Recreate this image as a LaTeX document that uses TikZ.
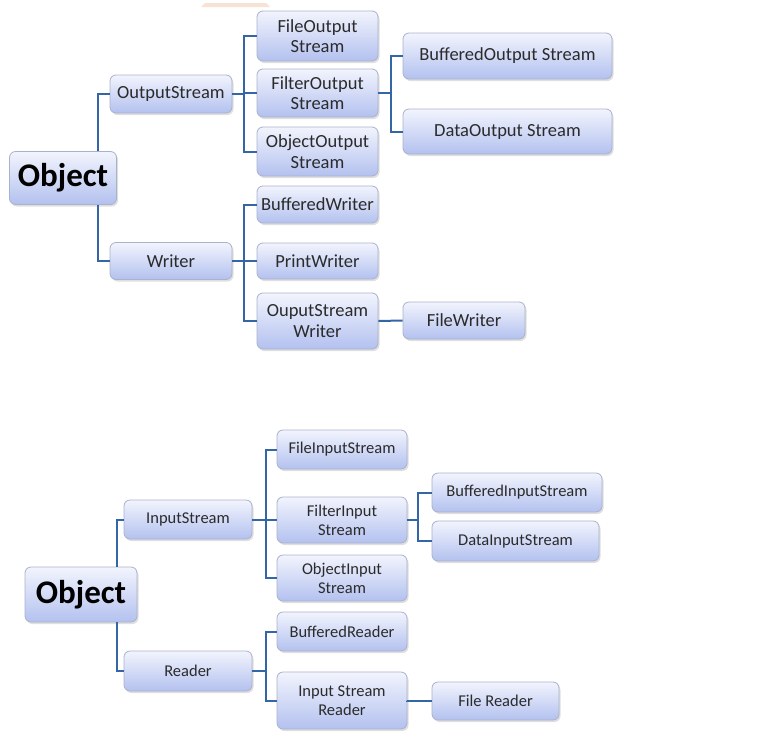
\documentclass[tikz,border=0pt]{standalone}
\usepackage{fontspec}
\setmainfont{Carlito}
\usetikzlibrary{shadows}
\definecolor{boxtop}{HTML}{F2F4FD}
\definecolor{boxbot}{HTML}{B3C1EF}
\definecolor{boxline}{HTML}{A9B2CC}
\definecolor{linkblue}{HTML}{3466A6}
\definecolor{txt}{HTML}{2B2B2B}
\definecolor{peach}{HTML}{F7E2D6}
\begin{document}
\begin{tikzpicture}[x=1pt,y=-1pt,
    cls/.style={draw=boxline, line width=0.8pt, rounded corners=6pt,
      top color=boxtop, bottom color=boxbot, text=txt, align=center,
      inner sep=0pt,
      drop shadow={opacity=0.25, shadow xshift=1.5pt, shadow yshift=-2pt}},
    up/.style={cls, font=\fontsize{18.5}{20.5}\selectfont},
    low/.style={cls, font=\fontsize{16.5}{19}\selectfont},
    root/.style={cls, text=black, font=\bfseries\fontsize{33}{36}\selectfont},
    link/.style={draw=linkblue, line width=2pt}
  ]
  \useasboundingbox (0,0) rectangle (763,737);
  \fill[peach] (205,3) -- (266,3) -- (270,7) -- (201,7) -- cycle;

  % output side
  \node[root, minimum width=107, minimum height=53] (obj1) at (63,178) {Object};
  \node[up, minimum width=122, minimum height=38] (os) at (171,94) {OutputStream};
  \node[up, minimum width=122, minimum height=37] (wr) at (171,261) {Writer};
  \node[up, minimum width=121, minimum height=50] (fos) at (317.5,36) {FileOutput\\Stream};
  \node[up, minimum width=121, minimum height=48] (flos) at (317.5,93) {FilterOutput\\Stream};
  \node[up, minimum width=121, minimum height=49] (oos) at (317.5,151.5) {ObjectOutput\\Stream};
  \node[up, minimum width=121, minimum height=37] (bw) at (317.5,204.5) {BufferedWriter};
  \node[up, minimum width=121, minimum height=36] (pw) at (317.5,261) {PrintWriter};
  \node[up, minimum width=121, minimum height=56] (osw) at (317.5,321) {OuputStream\\Writer};
  \node[up, minimum width=209, minimum height=46] (bos) at (507.5,56) {BufferedOutput Stream};
  \node[up, minimum width=209, minimum height=45] (dos) at (507.5,131.5) {DataOutput Stream};
  \node[up, minimum width=122, minimum height=37] (fw) at (464,320.5) {FileWriter};

  % input side
  \node[root, minimum width=112, minimum height=55] (obj2) at (81,594.5) {Object};
  \node[low, minimum width=128, minimum height=39] (is) at (188,519.5) {InputStream};
  \node[low, minimum width=128, minimum height=40] (rd) at (188,671) {Reader};
  \node[low, minimum width=130, minimum height=39] (fis) at (342,449.5) {FileInputStream};
  \node[low, minimum width=130, minimum height=46] (fltis) at (342,520) {FilterInput\\Stream};
  \node[low, minimum width=130, minimum height=46] (ois) at (342,578) {ObjectInput\\Stream};
  \node[low, minimum width=130, minimum height=39] (br) at (342,631.5) {BufferedReader};
  \node[low, minimum width=130, minimum height=57] (isr) at (342,700.5) {Input Stream\\Reader};
  \node[low, minimum width=170, minimum height=39] (bis) at (517,492.5) {BufferedInputStream};
  \node[low, minimum width=167, minimum height=40] (dis) at (515.5,541) {DataInputStream};
  \node[low, minimum width=127, minimum height=38] (frd) at (495.5,701) {File Reader};

  \coordinate (s1) at (98,0);
  \coordinate (s2) at (244,0);
  \coordinate (s3) at (391,0);
  \coordinate (s4) at (117,0);
  \coordinate (s5) at (266,0);
  \coordinate (s6) at (418,0);

  \draw[link] (obj1.north -| s1) |- (os.west);
  \draw[link] (obj1.south -| s1) |- (wr.west);
  \foreach \c in {fos,flos,oos}
    \draw[link] (os.east) -- (os.east -| s2) |- (\c.west);
  \foreach \c in {bw,pw,osw}
    \draw[link] (wr.east) -- (wr.east -| s2) |- (\c.west);
  \foreach \c in {bos,dos}
    \draw[link] (flos.east) -- (flos.east -| s3) |- (\c.west);
  \draw[link] (osw.east) -- (fw.west);

  \draw[link] (obj2.north -| s4) |- (is.west);
  \draw[link] (obj2.south -| s4) |- (rd.west);
  \foreach \c in {fis,fltis,ois}
    \draw[link] (is.east) -- (is.east -| s5) |- (\c.west);
  \foreach \c in {br,isr}
    \draw[link] (rd.east) -- (rd.east -| s5) |- (\c.west);
  \foreach \c in {bis,dis}
    \draw[link] (fltis.east) -- (fltis.east -| s6) |- (\c.west);
  \draw[link] (isr.east) -- (isr.east |- frd.west) -- (frd.west);
\end{tikzpicture}
\end{document}
